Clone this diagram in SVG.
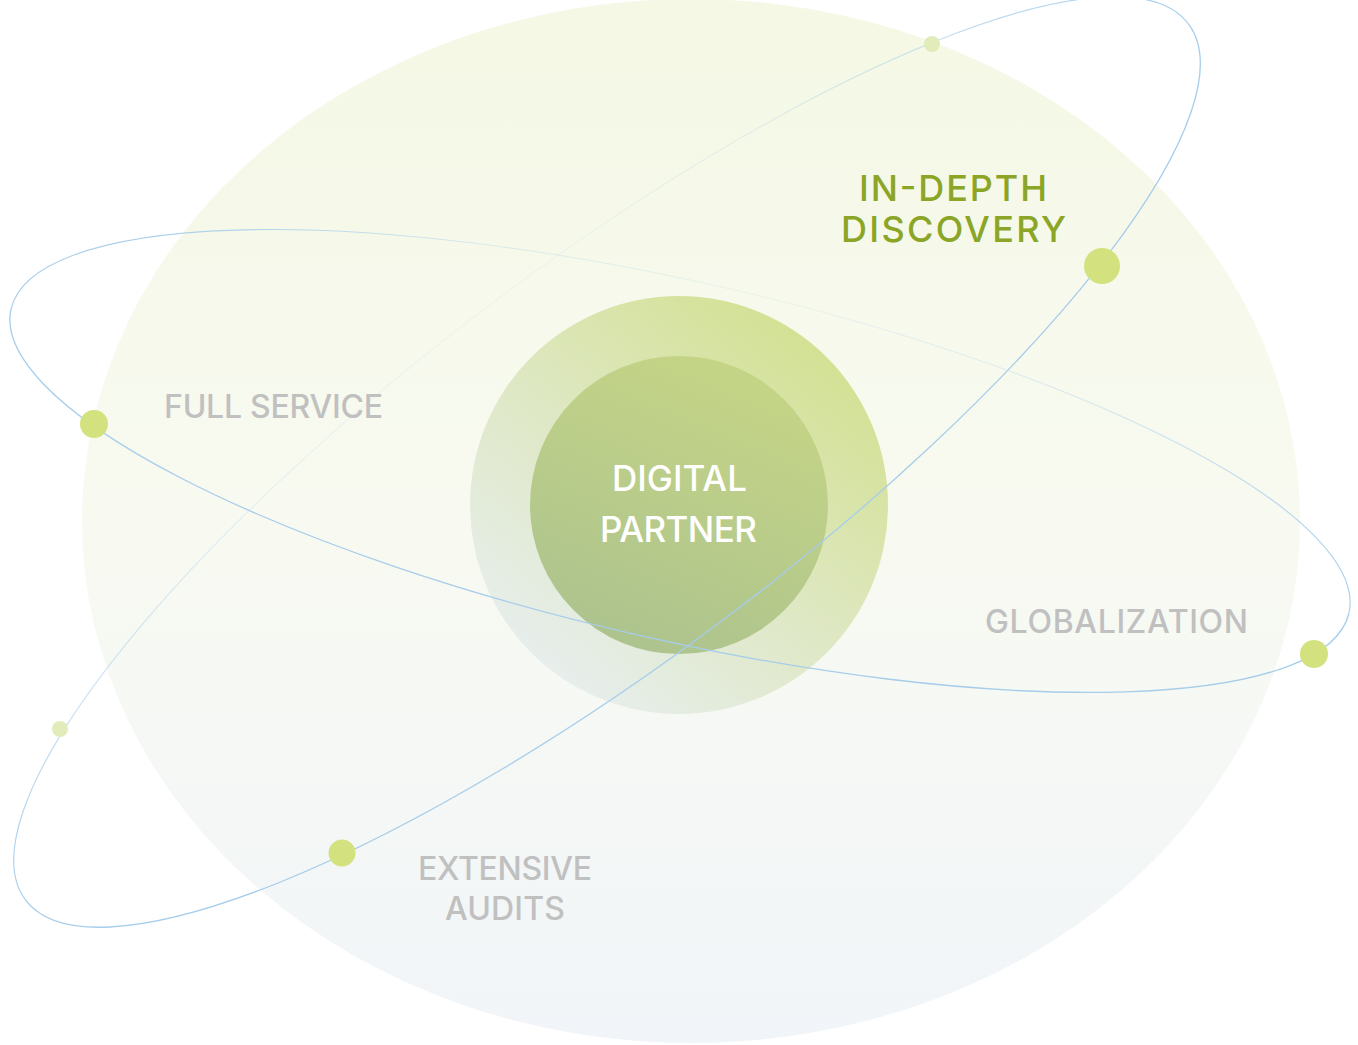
<svg xmlns="http://www.w3.org/2000/svg" width="1358" height="1045" viewBox="0 0 1358 1045">
<defs>
<linearGradient id="bg" x1="0" y1="0" x2="0" y2="1">
<stop offset="0" stop-color="#f4f8e4"/>
<stop offset="0.5" stop-color="#f8faf1"/>
<stop offset="1" stop-color="#f1f5f9"/>
</linearGradient>
<linearGradient id="mid" x1="0.85" y1="0.12" x2="0.2" y2="0.92">
<stop offset="0" stop-color="#d3e193"/>
<stop offset="0.55" stop-color="#dfe8c6"/>
<stop offset="1" stop-color="#e7eeed"/>
</linearGradient>
<linearGradient id="inner" x1="0.75" y1="0.05" x2="0.35" y2="1">
<stop offset="0" stop-color="#c5d586"/>
<stop offset="1" stop-color="#adc38e"/>
</linearGradient>
<linearGradient id="back1" gradientUnits="userSpaceOnUse" x1="-728" y1="0" x2="728" y2="0">
<stop offset="0" stop-color="#a6cdea" stop-opacity="1"/>
<stop offset="0.1" stop-color="#a6cdea" stop-opacity="0.65"/>
<stop offset="0.3" stop-color="#a6cdea" stop-opacity="0.22"/>
<stop offset="0.5" stop-color="#a6cdea" stop-opacity="0.1"/>
<stop offset="0.7" stop-color="#a6cdea" stop-opacity="0.25"/>
<stop offset="0.86" stop-color="#a6cdea" stop-opacity="0.65"/>
<stop offset="1" stop-color="#a6cdea" stop-opacity="1"/>
</linearGradient>
<linearGradient id="back2" gradientUnits="userSpaceOnUse" x1="-686" y1="0" x2="686" y2="0">
<stop offset="0" stop-color="#a6cdea" stop-opacity="1"/>
<stop offset="0.18" stop-color="#a6cdea" stop-opacity="0.8"/>
<stop offset="0.35" stop-color="#a6cdea" stop-opacity="0.3"/>
<stop offset="0.55" stop-color="#a6cdea" stop-opacity="0.12"/>
<stop offset="0.8" stop-color="#a6cdea" stop-opacity="0.4"/>
<stop offset="1" stop-color="#a6cdea" stop-opacity="1"/>
</linearGradient>
<style>
.front{fill:none;stroke:#a6cdea;stroke-width:1.3}
.back{fill:none;stroke-width:1.1}
.dot{fill:#d3e27e}
.dotpale{fill:#e2ecba}
.lbl{font-family:Inter,"Noto Sans","Liberation Sans",sans-serif;font-weight:500;text-anchor:middle}
.grey{fill:#c0c0c0;font-size:32px}
.green{fill:#8ba526;font-size:36px}
.white{fill:#ffffff;font-size:35px}
</style>
</defs>
<g id="background">
<ellipse cx="691" cy="521" rx="609" ry="522" fill="url(#bg)"/>
</g>
<g id="connectors">
<g id="orbit1-back" transform="translate(607 462) rotate(-37)">
<path class="back" stroke="url(#back1)" d="M -728 0 A 728 196 0 0 1 728 0"/>
</g>
<g id="orbit2-back" transform="translate(680 461) rotate(12.8)">
<path class="back" stroke="url(#back2)" d="M -686 0 A 686 179 0 0 1 686 0"/>
</g>
</g>
<g id="digital-partner">
<circle cx="679" cy="505" r="209" fill="url(#mid)"/>
<circle cx="679" cy="505" r="149" fill="url(#inner)"/>
<text class="lbl white" x="679.5" y="491" textLength="135">DIGITAL</text>
<text class="lbl white" x="678.5" y="542" textLength="157">PARTNER</text>
</g>
<g id="orbits-front">
<g transform="translate(607 462) rotate(-37)">
<path class="front" d="M 728 0 A 728 196 0 0 1 -728 0"/>
</g>
<g transform="translate(680 461) rotate(12.8)">
<path class="front" d="M 686 0 A 686 179 0 0 1 -686 0"/>
</g>
</g>
<g id="dots">
<circle class="dotpale" cx="932" cy="44" r="8"/>
<circle class="dotpale" cx="60" cy="729" r="8"/>
<circle class="dot" cx="1102" cy="266" r="18"/>
<circle class="dot" cx="94" cy="424" r="14"/>
<circle class="dot" cx="1314" cy="654" r="14"/>
<circle class="dot" cx="342" cy="853" r="13.5"/>
</g>
<g id="in-depth-discovery">
<text class="lbl green" x="953" y="201" textLength="188">IN-DEPTH</text>
<text class="lbl green" x="953.5" y="242" textLength="225">DISCOVERY</text>
</g>
<g id="full-service">
<text class="lbl grey" x="273.5" y="418" textLength="219">FULL SERVICE</text>
</g>
<g id="globalization">
<text class="lbl grey" x="1116.5" y="633" textLength="263">GLOBALIZATION</text>
</g>
<g id="extensive-audits">
<text class="lbl grey" x="505" y="880" textLength="174">EXTENSIVE</text>
<text class="lbl grey" x="505" y="920" textLength="120">AUDITS</text>
</g>
</svg>
